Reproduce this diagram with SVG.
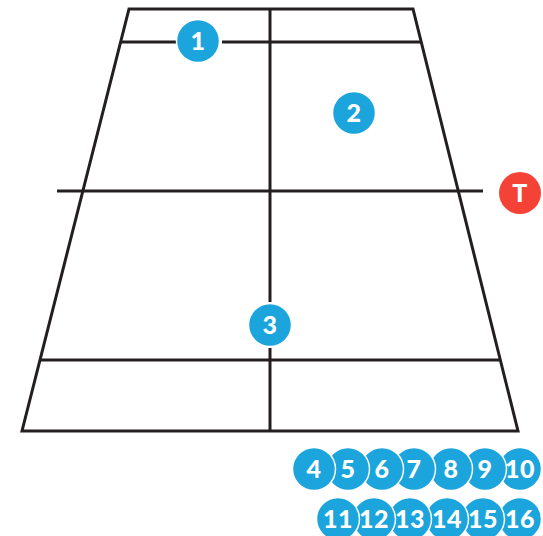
<svg xmlns="http://www.w3.org/2000/svg" width="543" height="536" viewBox="0 0 543 536">
<style>
.l{stroke:#231f20;stroke-width:3;fill:none}
.c{fill:#1ba5dc;stroke:#fff;stroke-width:1.5}
.r{fill:#f44336}
text{font-family:Lato,"Noto Sans",sans-serif;font-size:25px;font-weight:900;letter-spacing:.6px;fill:#fff;text-anchor:middle}
</style>
<rect width="543" height="536" fill="#fff"/>
<g id="connectors">
<path class="l" d="M129 9H413L518 431H22Z"/>
<path class="l" d="M120 42H176M222 42H421"/>
<path class="l" d="M57 191H483"/>
<path class="l" d="M40 360H500"/>
<path class="l" d="M270 9V302M270 348V431"/>
</g>
<g id="n1"><circle class="c" cx="198" cy="41" r="21.5"/><text x="198" y="50">1</text></g>
<g id="n2"><circle class="c" cx="354" cy="113" r="21.5"/><text x="354" y="122">2</text></g>
<g id="n3"><circle class="c" cx="270" cy="325" r="21.5"/><text x="270" y="334">3</text></g>
<g id="nT"><circle class="r" cx="520" cy="193" r="21"/><text x="520" y="202">T</text></g>
<g id="n10"><circle class="c" cx="520" cy="469" r="21.5"/><text x="520" y="478">10</text></g>
<g id="n9"><circle class="c" cx="485" cy="469" r="21.5"/><text x="485" y="478">9</text></g>
<g id="n8"><circle class="c" cx="451" cy="469" r="21.5"/><text x="451" y="478">8</text></g>
<g id="n7"><circle class="c" cx="414" cy="469" r="21.5"/><text x="414" y="478">7</text></g>
<g id="n6"><circle class="c" cx="382" cy="469" r="21.5"/><text x="382" y="478">6</text></g>
<g id="n5"><circle class="c" cx="348" cy="469" r="21.5"/><text x="348" y="478">5</text></g>
<g id="n4"><circle class="c" cx="314" cy="469" r="21.5"/><text x="314" y="478">4</text></g>
<g id="n16"><circle class="c" cx="520" cy="519" r="21.5"/><text x="520" y="528">16</text></g>
<g id="n15"><circle class="c" cx="483" cy="519" r="21.5"/><text x="483" y="528">15</text></g>
<g id="n14"><circle class="c" cx="447" cy="519" r="21.5"/><text x="447" y="528">14</text></g>
<g id="n13"><circle class="c" cx="410" cy="519" r="21.5"/><text x="410" y="528">13</text></g>
<g id="n12"><circle class="c" cx="374" cy="519" r="21.5"/><text x="374" y="528">12</text></g>
<g id="n11"><circle class="c" cx="338" cy="519" r="21.5"/><text x="338" y="528">11</text></g>
</svg>
